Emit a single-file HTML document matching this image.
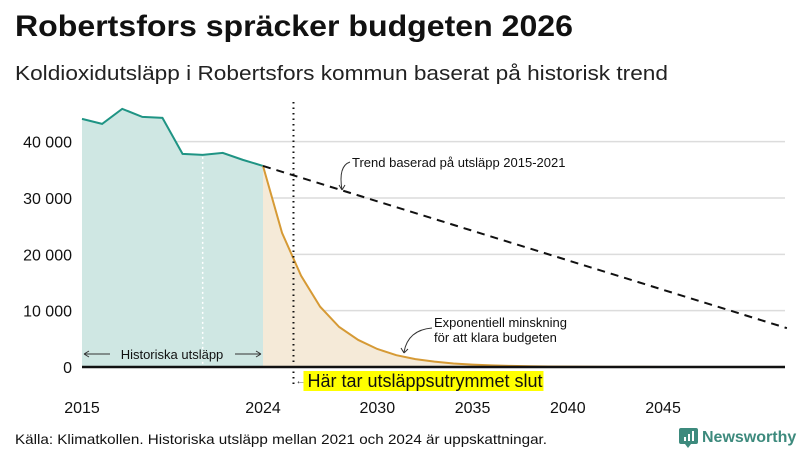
<!DOCTYPE html>
<html><head><meta charset="utf-8"><style>
html,body{margin:0;padding:0;background:#fff;}
svg{display:block;font-family:"Liberation Sans",sans-serif;}
</style></head><body>
<svg id="chart" width="800" height="450" viewBox="0 0 800 450">
<text x="15" y="36" font-size="30" font-weight="bold" fill="#111" textLength="558" lengthAdjust="spacingAndGlyphs">Robertsfors spräcker budgeten 2026</text>
<text x="15" y="80" font-size="20" fill="#222" textLength="653" lengthAdjust="spacingAndGlyphs">Koldioxidutsläpp i Robertsfors kommun baserat på historisk trend</text>
<g id="grid"></g>
<g id="marks"></g>
<g id="axes"></g>
<text x="15" y="444" font-size="14" fill="#111" textLength="532" lengthAdjust="spacingAndGlyphs">Källa: Klimatkollen. Historiska utsläpp mellan 2021 och 2024 är uppskattningar.</text>
<g>
<path d="M681 428 h15 a2 2 0 0 1 2 2 v12 a2 2 0 0 1 -2 2 h-5 l-3 4 l-3 -4 h-4 a2 2 0 0 1 -2 -2 v-12 a2 2 0 0 1 2 -2z" fill="#3d8a7d"/>
<rect x="684" y="437" width="2" height="4" fill="#fff"/><rect x="688" y="434" width="2" height="7" fill="#fff"/><rect x="692" y="431" width="2" height="10" fill="#fff"/>
<text x="702" y="442" font-size="16" font-weight="bold" fill="#3d8a7d">Newsworthy</text>
</g>
</svg>
<script>
const histYears=[2015,2016,2017,2018,2019,2020,2021,2022,2023,2024];
const histValues=[44050,43160,45830,44400,44230,37830,37650,38010,36770,35700];
const expYears=[2024,2025,2026,2027,2028,2029,2030,2031,2032,2033,2034,2035,2036,2037,2038,2039,2040,2041,2042,2043,2044,2045,2046,2047,2048,2049,2050,2051];
const expValues=[35700,23800,16200,10700,7100,4800,3200,2100,1400,950,630,420,280,190,130,90,60,40,27,18,12,8,5,4,3,2,1,1];
const trendYears=[2024,2051.5];
const trendValues=[35700,6900];
const yTicks=[0,10000,20000,30000,40000];
const yTickLabels=["0","10 000","20 000","30 000","40 000"];
const xTicks=[2015,2024,2030,2035,2040,2045];
const budgetEndYear=2025.6;

const NS="http://www.w3.org/2000/svg";
function X(yr){return yr<=2024?82+(yr-2015)*(181/9):263+(yr-2024)*19.05;}
function Y(v){return 367-v*0.005633;}
function el(tag,attrs,parent,text){const e=document.createElementNS(NS,tag);for(const k in attrs)e.setAttribute(k,attrs[k]);if(text!==undefined)e.textContent=text;document.getElementById(parent).appendChild(e);return e;}
const xEnd=785;
yTicks.forEach((t,i)=>{
 if(t>0){const g=el('line',{x1:82,x2:xEnd,y1:Y(t),y2:Y(t),stroke:'#dcdcdc','stroke-width':1.5},'grid');
 
 }
 const l=el('text',{x:72,y:Y(t)+6,'font-size':16,'text-anchor':'end',fill:'#111'},'axes',yTickLabels[i]);
 
 
});
xTicks.forEach(t=>{
 const l=el('text',{x:X(t),y:413,'font-size':16,'text-anchor':'middle',fill:'#111'},'axes',String(t));
 
 
});
let hp=histYears.map((y,i)=>X(y)+','+Y(histValues[i]));
const ha=el('polygon',{points:X(2015)+','+Y(0)+' '+hp.join(' ')+' '+X(2024)+','+Y(0),fill:'#cfe7e3'},'marks');


let ep=expYears.map((y,i)=>X(y)+','+Y(expValues[i]));
const ea=el('polygon',{points:X(2024)+','+Y(0)+' '+ep.join(' ')+' '+xEnd+','+Y(0),fill:'#f5ead8'},'marks');


const wd=el('line',{x1:X(2021),x2:X(2021),y1:Y(histValues[6])+2,y2:Y(0),stroke:'#fff','stroke-width':1.5,'stroke-dasharray':'2,3'},'marks');


const hl=el('polyline',{points:hp.join(' '),fill:'none',stroke:'#1f9484','stroke-width':2},'marks');


const el2=el('polyline',{points:ep.join(' ')+' '+xEnd+','+Y(0),fill:'none',stroke:'#d69a35','stroke-width':2},'marks');


const tl=el('line',{x1:X(trendYears[0]),y1:Y(trendValues[0]),x2:X(trendYears[1]),y2:Y(trendValues[1]),stroke:'#111','stroke-width':2,'stroke-dasharray':'8,6'},'marks');


const base=el('line',{x1:82,x2:xEnd,y1:Y(0),y2:Y(0),stroke:'#111','stroke-width':2.5},'marks');


const bx=X(budgetEndYear);
const vl=el('line',{x1:bx,x2:bx,y1:102,y2:386,stroke:'#111','stroke-width':2,'stroke-dasharray':'1.5,4'},'marks');


const hb=el('rect',{x:bx+10,y:371,width:240,height:20,fill:'#ffff00'},'marks');


const ht=el('text',{x:bx+14,y:387,'font-size':18,fill:'#111'},'marks','Här tar utsläppsutrymmet slut');


const ha2=el('text',{x:bx+2,y:384,'font-size':10,fill:'#333'},'marks','←');


const ar=el('path',{d:`M84 354 H110 M235 354 H261 M84 354 l5 -3 M84 354 l5 3 M261 354 l-5 -3 M261 354 l-5 3`,stroke:'#333','stroke-width':1,fill:'none'},'marks');


const at=el('text',{x:172,y:359,'font-size':13,'text-anchor':'middle',fill:'#111'},'marks','Historiska utsläpp');


const t1=el('text',{x:352,y:167,'font-size':13,fill:'#111'},'marks','Trend baserad på utsläpp 2015-2021');


const c1=el('path',{d:'M350 162 q-12 4 -8 28 M342 190 l-3 -5 M342 190 l3 -5',stroke:'#333','stroke-width':1,fill:'none'},'marks');


const t2=el('text',{x:434,y:327,'font-size':13,fill:'#111'},'marks','Exponentiell minskning');


const t3=el('text',{x:434,y:342,'font-size':13,fill:'#111'},'marks','för att klara budgeten');


const c2=el('path',{d:'M432 328 q-24 2 -28 24 M404 353 l-3 -5 M404 353 l4 -4',stroke:'#333','stroke-width':1,fill:'none'},'marks');


</script>
</body></html>
